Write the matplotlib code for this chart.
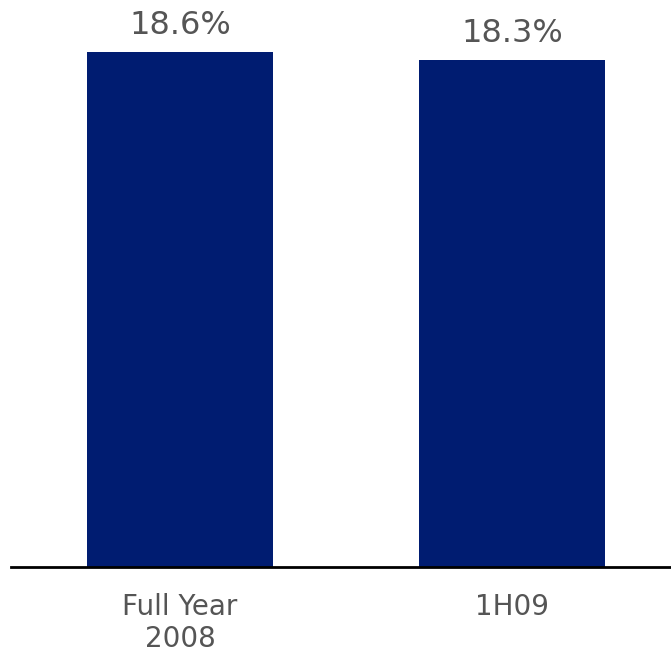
import matplotlib
matplotlib.use("Agg")
import matplotlib.pyplot as plt

categories = ["Full Year\n2008", "1H09"]
values = [18.6, 18.3]
value_labels = ["18.6%", "18.3%"]

BAR_COLOR = "#001c71"
TEXT_COLOR = "#555555"

fig = plt.figure(figsize=(6.71, 6.53), dpi=100)
ax = fig.add_axes([11 / 671, 86 / 653, 660 / 671, 567 / 653])

x = list(range(len(categories)))
bars = ax.bar(x, values, width=0.559, color=BAR_COLOR, zorder=2)

ax.set_xlim(-0.508, 1.477)
ax.set_ylim(0, 20.48)

for rect, lab in zip(bars, value_labels):
    ax.annotate(lab, (rect.get_x() + rect.get_width() / 2, rect.get_height()),
                xytext=(0, 19), textcoords="offset points",
                ha="center", va="center", fontsize=23, color=TEXT_COLOR)

ax.set_xticks(x)
ax.set_xticklabels(categories, fontsize=20, color=TEXT_COLOR, linespacing=1.16)
ax.tick_params(axis="x", length=0, pad=19)
ax.set_yticks([])

for side in ["left", "right", "top"]:
    ax.spines[side].set_visible(False)
ax.spines["bottom"].set_linewidth(2)
ax.spines["bottom"].set_color("black")

fig.savefig("out.png", dpi=100)
